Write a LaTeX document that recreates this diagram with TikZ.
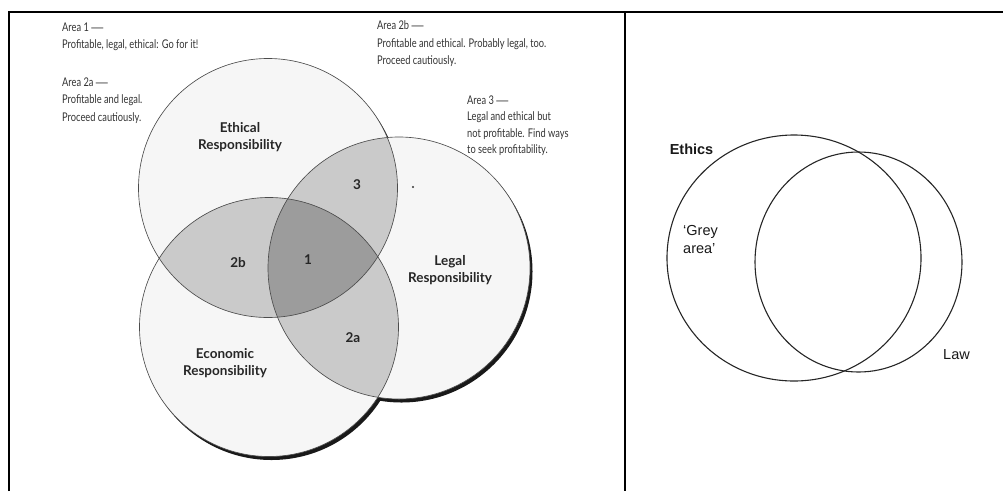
\documentclass[tikz,border=0pt]{standalone}
\usepackage{fontspec}
\setmainfont{Lato}
\newfontfamily\annotfont[FakeStretch=0.775]{Lato}
\newfontfamily\arialfont{Liberation Sans}
\newcommand\longdash{{\arialfont —}}
\definecolor{single}{HTML}{F6F6F6}
\definecolor{pair}{HTML}{CACACA}
\definecolor{triple}{HTML}{9C9C9C}
\begin{document}
\begin{tikzpicture}[x=1pt,y=-1pt,
  frame/.style={line width=2.2pt, black},
  venn/.style={draw=black!70, line width=0.65pt},
  shadowc/.style={fill=black!90},
  lbl/.style={font=\bfseries\fontsize{13.5}{17}\selectfont, align=center, text=black!85, inner sep=0pt},
  annot/.style={font=\annotfont\fontsize{12}{17.5}\selectfont, align=left, anchor=north west, inner sep=0pt, text=black!80},
  rcirc/.style={draw=black!85, line width=1.1pt},
  rlbl/.style={font=\arialfont\fontsize{14.5}{18.5}\selectfont, inner sep=0pt, text=black!90}
]
\useasboundingbox (0,0) rectangle (1003,491);
% frame
\draw[frame] (9,491) -- (9,12) -- (1003,12);
\draw[frame] (625,12) -- (625,491);

% left Venn centres
\coordinate (cE) at (268,188);
\coordinate (cC) at (269,327);
\coordinate (cL) at (399,268);
\def\rE{129.5pt}
\def\rC{129.5pt}
\def\rL{131pt}
% shadows
\fill[shadowc] ([shift={(2.5,3.5)}]cE) circle[radius=\rE];
\fill[shadowc] ([shift={(2.5,3.5)}]cC) circle[radius=\rC];
\fill[shadowc] ([shift={(2.5,3.5)}]cL) circle[radius=\rL];
% single fills
\fill[single] (cE) circle[radius=\rE];
\fill[single] (cC) circle[radius=\rC];
\fill[single] (cL) circle[radius=\rL];
% pair fills
\begin{scope}\clip (cE) circle[radius=\rE]; \fill[pair] (cC) circle[radius=\rC]; \fill[pair] (cL) circle[radius=\rL];\end{scope}
\begin{scope}\clip (cC) circle[radius=\rC]; \fill[pair] (cL) circle[radius=\rL];\end{scope}
% triple
\begin{scope}\clip (cE) circle[radius=\rE]; \clip (cC) circle[radius=\rC]; \fill[triple] (cL) circle[radius=\rL];\end{scope}
% outlines
\draw[venn] (cE) circle[radius=\rE];
\draw[venn] (cC) circle[radius=\rC];
\draw[venn] (cL) circle[radius=\rL];

% labels
\node[lbl] (ethical) at (240,137) {Ethical\\Responsibility};
\node[lbl] (legal) at (450,270) {Legal\\Responsibility};
\node[lbl] (economic) at (225,363) {Economic\\Responsibility};
\node[lbl] (a1) at (308,260) {1};
\node[lbl] (a2b) at (238,263) {2b};
\node[lbl] (a2a) at (353,338) {2a};
\node[lbl] (a3) at (357,185) {3};
\fill[black!80] (413,187) circle[radius=1.1pt];

% annotations
\node[annot] (t1) at (62,22.5) {Area 1 \longdash\\Profitable, legal, ethical: Go for it!};
\node[annot] (t2a) at (62,77.5) {Area 2a \longdash\\Profitable and legal.\\Proceed cautiously.};
\node[annot] (t2b) at (377,20.5) {Area 2b \longdash\\Profitable and ethical. Probably legal, too.\\Proceed cautiously.};
\node[annot, font=\annotfont\fontsize{12}{16.4}\selectfont] (t3) at (467,95.5) {Area 3 \longdash\\Legal and ethical but\\not profitable. Find ways\\to seek profitability.};

% right diagram
\draw[rcirc] (794,258) ellipse[x radius=127pt, y radius=123pt];
\draw[rcirc] (858.5,262) ellipse[x radius=103.5pt, y radius=110pt];
\node[rlbl, font=\arialfont\bfseries\fontsize{14.5}{18.5}\selectfont] (ethics) at (691.5,149) {Ethics};
\node[rlbl, align=left, anchor=west] (grey) at (683,239.5) {‘Grey\\area’};
\node[rlbl] (law) at (956.5,355) {Law};
\end{tikzpicture}
\end{document}
